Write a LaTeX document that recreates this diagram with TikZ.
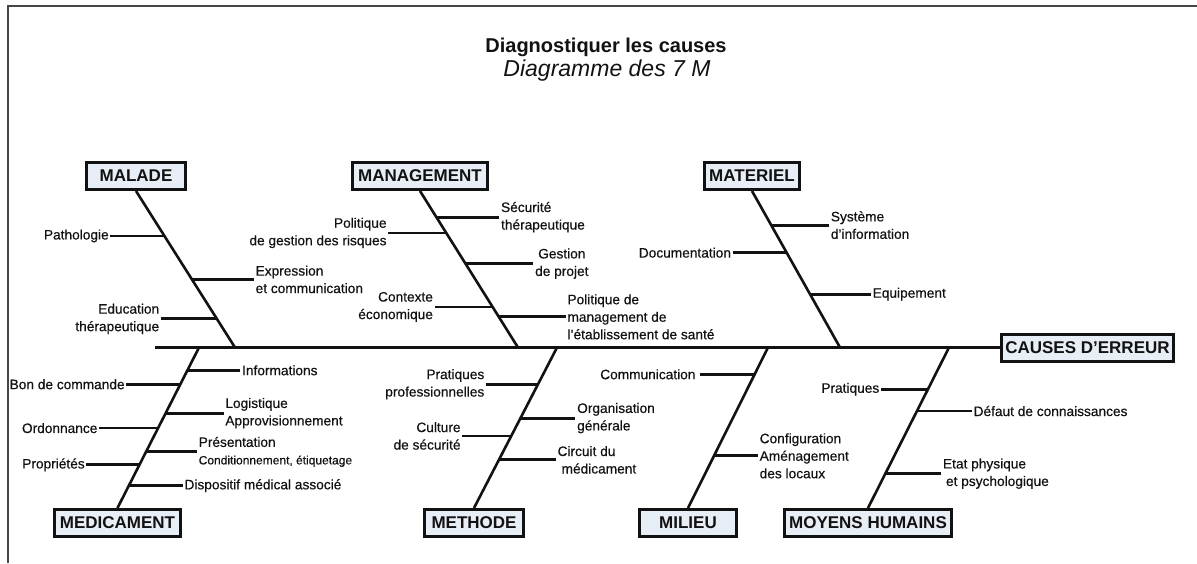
\documentclass[tikz,border=0pt]{standalone}
\usepackage{fontspec}
\setmainfont{Liberation Sans}
\newfontfamily\lblfont{Liberation Sans}[FakeBold=0.45]
\usetikzlibrary{calc}
\definecolor{boxfill}{RGB}{232,238,245}
\definecolor{ink}{RGB}{18,18,18}
\definecolor{framec}{RGB}{70,70,70}
\begin{document}
\begin{tikzpicture}[x=1pt,y=-1pt,
  cat/.style={draw=ink, line width=3pt, fill=boxfill, font=\fontsize{17}{20}\selectfont\bfseries, inner sep=0pt, minimum height=27pt, text=ink},
  spine/.style={draw=ink, line width=3.2pt},
  bone/.style={draw=ink, line width=2.6pt},
  twig/.style={draw=ink, line width=2.8pt},
  lbl/.style={font=\lblfont\fontsize{13.7}{17.5}\selectfont, inner ysep=0pt, inner xsep=1.5pt, text=ink},
  lblL/.style={lbl, anchor=east, align=right},
  lblR/.style={lbl, anchor=west, align=left},
]
\useasboundingbox (0,0) rectangle (1197,563);
\fill[white] (0,0) rectangle (1197,563);
\draw[framec, line width=2pt] (7.5,563) -- (7.5,6) -- (1197,6);

% title
\node[font=\fontsize{20}{24}\selectfont\bfseries, text=ink] (title) at (606,47) {Diagnostiquer les causes};
\node[font=\fontsize{23}{27}\selectfont\itshape, text=ink] (subtitle) at (607,71) {Diagramme des 7 M};

% category boxes
\node[cat, minimum width=99pt]  (malade) at (136,176) {MALADE};
\node[cat, minimum width=135pt] (manag)  at (420,176) {MANAGEMENT};
\node[cat, minimum width=95pt]  (mat)    at (752,176) {MATERIEL};
\node[cat, minimum width=172pt] (effet)  at (1087.5,347.5) {CAUSES D’ERREUR};
\node[cat, minimum width=126pt] (medic)  at (117.5,523) {MEDICAMENT};
\node[cat, minimum width=99pt]  (meth)   at (474,523) {METHODE};
\node[cat, minimum width=97pt]  (mil)    at (688,523) {MILIEU};
\node[cat, minimum width=167pt] (moy)    at (868,523) {MOYENS HUMAINS};

% spine
\coordinate (s0) at (155,347.5);
\draw[spine] (s0) -- (effet.west);

% spine attachment points
\coordinate (hMal)  at (235,347.5);
\coordinate (hMan)  at (518,347.5);
\coordinate (hMat)  at (840,347.5);
\coordinate (hMed)  at (199,347.5);
\coordinate (hMet)  at (557,347.5);
\coordinate (hMil)  at (768,347.5);
\coordinate (hMoy)  at (949,347.5);

% bones
\draw[bone] (malade.south) -- (hMal);
\draw[bone] (manag.south) -- (hMan);
\draw[bone] (mat.south) -- (hMat);
\draw[bone] (hMed) -- (medic.north);
\draw[bone] (hMet) -- (meth.north);
\draw[bone] (hMil) -- (mil.north);
\draw[bone] (hMoy) -- (moy.north);

% ---- MALADE
\coordinate (a1) at ($(malade.south)!0.287!(hMal)$);
\coordinate (a2) at ($(malade.south)!0.565!(hMal)$);
\coordinate (a3) at ($(malade.south)!0.817!(hMal)$);
\node[lblL] (patho) at ($(a1)+(-54,0)$) {Pathologie};
\node[lblR] (expr)  at ($(a2)+(62,0)$) {Expression\\et communication};
\node[lblL] (educ)  at ($(a3)+(-56,0)$) {Education\\thérapeutique};
\draw[twig] (patho.east) -- (a1);
\draw[twig] (a2) -- (expr.west);
\draw[twig] (educ.east) -- (a3);

% ---- MANAGEMENT
\coordinate (b1) at ($(manag.south)!0.167!(hMan)$);
\coordinate (b2) at ($(manag.south)!0.268!(hMan)$);
\coordinate (b3) at ($(manag.south)!0.464!(hMan)$);
\coordinate (b4) at ($(manag.south)!0.741!(hMan)$);
\coordinate (b5) at ($(manag.south)!0.804!(hMan)$);
\node[lblR] (secu) at ($(b1)+(63,0)$) {Sécurité\\thérapeutique};
\node[lblL] (polg) at ($(b2)+(-58,0)$) {Politique\\de gestion des risques};
\node[lbl, anchor=west, align=center] (gest) at ($(b3)+(68,0)$) {Gestion\\de projet};
\node[lblL] (ctx)  at ($(b4)+(-58,0)$) {Contexte\\économique};
\node[lblR] (polm) at ($(b5)+(67,0)$) {Politique de\\management de\\l’établissement de santé};
\draw[twig] (b1) -- (secu.west);
\draw[twig] (polg.east) -- (b2);
\draw[twig] (b3) -- (gest.west);
\draw[twig] (ctx.east) -- (b4);
\draw[twig] (b5) -- (polm.west);

% ---- MATERIEL
\coordinate (c1) at ($(mat.south)!0.218!(hMat)$);
\coordinate (c2) at ($(mat.south)!0.394!(hMat)$);
\coordinate (c3) at ($(mat.south)!0.659!(hMat)$);
\node[lblR] (sysi) at ($(c1)+(58,0)$) {Système\\d’information};
\node[lblL] (docu) at ($(c2)+(-54,0)$) {Documentation};
\node[lblR] (equi) at ($(c3)+(61,0)$) {Equipement};
\draw[twig] (c1) -- (sysi.west);
\draw[twig] (docu.east) -- (c2);
\draw[twig] (c3) -- (equi.west);

% ---- MEDICAMENT
\coordinate (d1) at ($(hMed)!0.142!(medic.north)$);
\coordinate (d2) at ($(hMed)!0.229!(medic.north)$);
\coordinate (d3) at ($(hMed)!0.409!(medic.north)$);
\coordinate (d4) at ($(hMed)!0.502!(medic.north)$);
\coordinate (d5) at ($(hMed)!0.650!(medic.north)$);
\coordinate (d6) at ($(hMed)!0.731!(medic.north)$);
\coordinate (d7) at ($(hMed)!0.861!(medic.north)$);
\node[lblR] (info) at ($(d1)+(53,0)$) {Informations};
\node[lblL] (bonc) at ($(d2)+(-54,0)$) {Bon de commande};
\node[lblR] (logi) at ($(d3)+(58,0)$) {Logistique\\Approvisionnement};
\node[lblL] (ordo) at ($(d4)+(-59,0)$) {Ordonnance};
\node[lblR] (pres) at ($(d5)+(51,0)$) {Présentation\\{\fontsize{12}{15}\selectfont Conditionnement, étiquetage}};
\node[lblL] (prop) at ($(d6)+(-53,0)$) {Propriétés};
\node[lblR] (disp) at ($(d7)+(54,0)$) {Dispositif médical associé};
\draw[twig] (d1) -- (info.west);
\draw[twig] (bonc.east) -- (d2);
\draw[twig] (d3) -- (logi.west);
\draw[twig] (ordo.east) -- (d4);
\draw[twig] (d5) -- (pres.west);
\draw[twig] (prop.east) -- (d6);
\draw[twig] (d7) -- (disp.west);

% ---- METHODE
\coordinate (e1) at ($(hMet)!0.229!(meth.north)$);
\coordinate (e2) at ($(hMet)!0.440!(meth.north)$);
\coordinate (e3) at ($(hMet)!0.551!(meth.north)$);
\coordinate (e4) at ($(hMet)!0.700!(meth.north)$);
\node[lblL] (prat) at ($(e1)+(-52,0)$) {Pratiques\\professionnelles};
\node[lblR] (orga) at ($(e2)+(55,0)$) {Organisation\\générale};
\node[lblL] (cult) at ($(e3)+(-49,0)$) {Culture\\de sécurité};
\node[lblR] (circ) at ($(e4)+(57,0)$) {Circuit du\\\hspace*{4pt}médicament};
\draw[twig] (prat.east) -- (e1);
\draw[twig] (e2) -- (orga.west);
\draw[twig] (cult.east) -- (e3);
\draw[twig] (e4) -- (circ.west);

% ---- MILIEU
\coordinate (f1) at ($(hMil)!0.167!(mil.north)$);
\coordinate (f2) at ($(hMil)!0.675!(mil.north)$);
\node[lblL, inner xsep=4pt] (comm) at ($(f1)+(-55,0)$) {Communication};
\node[lblR] (conf) at ($(f2)+(44,0)$) {Configuration\\Aménagement\\des locaux};
\draw[twig] (comm.east) -- (f1);
\draw[twig] (f2) -- (conf.west);

% ---- MOYENS HUMAINS
\coordinate (g1) at ($(hMoy)!0.260!(moy.north)$);
\coordinate (g2) at ($(hMoy)!0.396!(moy.north)$);
\coordinate (g3) at ($(hMoy)!0.786!(moy.north)$);
\node[lblL] (prah) at ($(g1)+(-47,0)$) {Pratiques};
\node[lblR] (defa) at ($(g2)+(55,0)$) {Défaut de connaissances};
\node[lblR] (etat) at ($(g3)+(56,0)$) {Etat physique\\\hspace*{3pt}et psychologique};
\draw[twig] (prah.east) -- (g1);
\draw[twig] (g2) -- (defa.west);
\draw[twig] (g3) -- (etat.west);
\end{tikzpicture}
\end{document}
